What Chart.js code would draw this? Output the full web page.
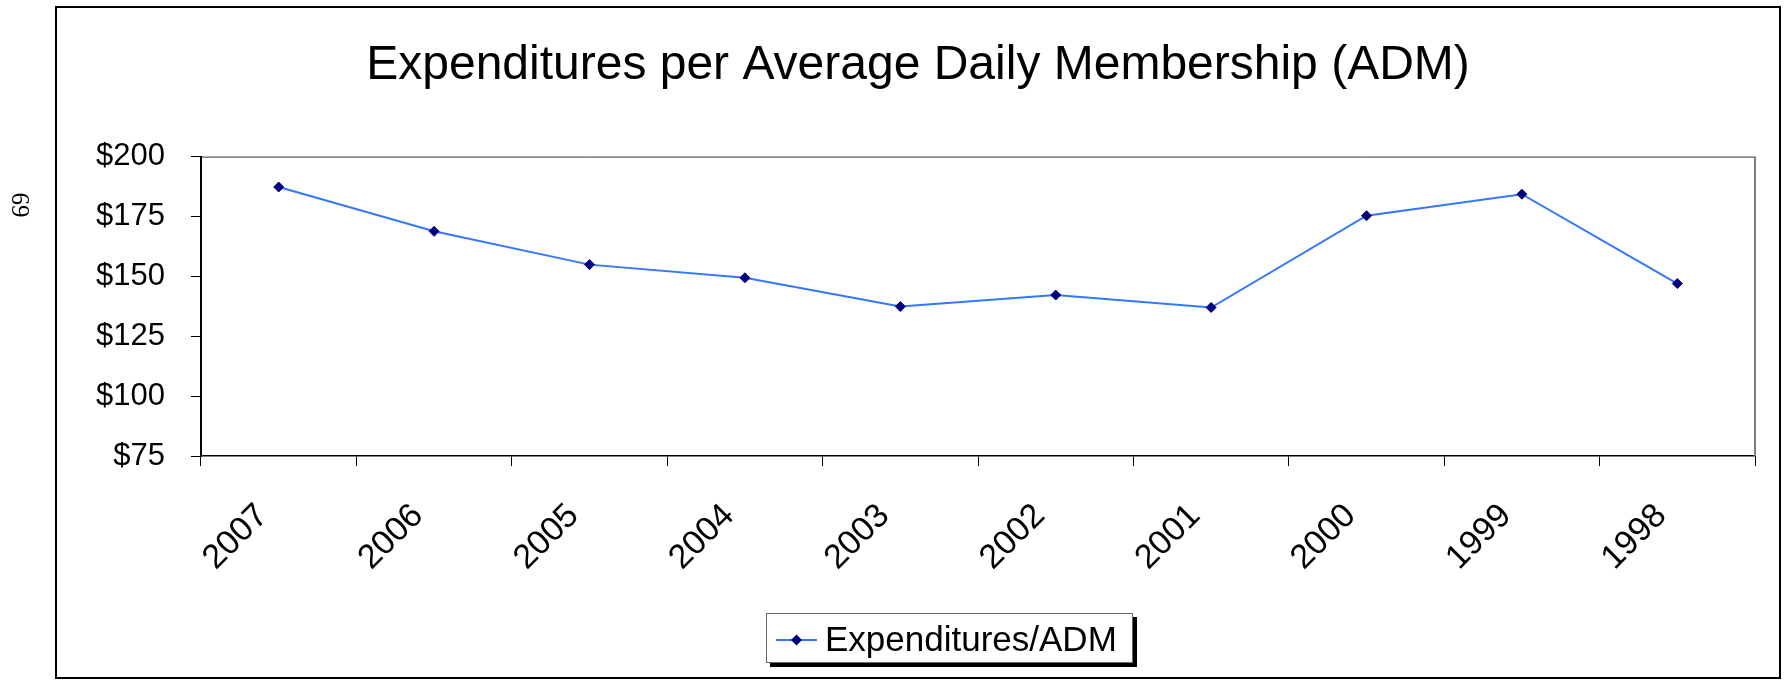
<!DOCTYPE html>
<html>
<head>
<meta charset="utf-8">
<script src="https://cdn.jsdelivr.net/npm/chart.js@4.4.1/dist/chart.umd.min.js"></script>
<style>
    html, body { margin: 0; padding: 0; background: #fff; }
    #wrap { position: relative; width: 1784px; height: 681px; }
    #pageNo {
        position: absolute; left: 5px; top: 190px; width: 30px; height: 30px;
        font-family: 'Liberation Serif', 'Times New Roman', serif; font-size: 25px;
        line-height: 30px; text-align: center; transform: rotate(90deg);
    }
</style>
</head>
<body>
<div id="wrap">
    <canvas id="admChart" width="1784" height="681"></canvas>
    <div id="pageNo">69</div>
</div>
<script>
// --- Data ---
const years = ['2007', '2006', '2005', '2004', '2003', '2002', '2001', '2000', '1999', '1998'];
const expenditures = [187.3, 168.8, 154.9, 149.4, 137.4, 142.2, 137.0, 175.3, 184.3, 147.0];
const yTicks = [75, 100, 125, 150, 175, 200];

const LINE_COLOR = '#3377ff';
const POINT_COLOR = '#000080';
const FONT = "'Liberation Sans', Arial, sans-serif";

// outer frame around the whole chart object
const framePlugin = {
    id: 'frame',
    beforeDraw(chart) {
        const ctx = chart.ctx;
        ctx.save();
        ctx.fillStyle = '#fff';
        ctx.fillRect(0, 0, chart.width, chart.height);
        ctx.strokeStyle = '#000';
        ctx.lineWidth = 2;
        ctx.strokeRect(56, 7, 1724, 671);
        ctx.restore();
    },
    beforeDatasetsDraw(chart) {
        // plot area border (top / right)
        const { ctx, chartArea: a } = chart;
        ctx.save();
        ctx.strokeStyle = '#333';
        ctx.lineWidth = 1;
        ctx.beginPath();
        ctx.moveTo(a.left, a.top + 0.5);
        ctx.lineTo(a.right, a.top + 0.5);
        ctx.stroke();
        ctx.strokeStyle = '#808080';
        ctx.lineWidth = 2;
        ctx.beginPath();
        ctx.moveTo(a.right, a.top);
        ctx.lineTo(a.right, a.bottom);
        ctx.stroke();
        ctx.restore();
    }
};

// Excel-style boxed legend with a drop shadow
const boxLegendPlugin = {
    id: 'boxLegend',
    afterDraw(chart) {
        const ctx = chart.ctx;
        const ds = chart.data.datasets[0];
        const x = 766, y = 613, w = 367, h = 50;
        ctx.save();
        ctx.fillStyle = '#000';
        ctx.fillRect(x + 4, y + 4, w, h);
        ctx.fillStyle = '#fff';
        ctx.fillRect(x, y, w, h);
        ctx.strokeStyle = '#666';
        ctx.lineWidth = 1;
        ctx.strokeRect(x + 0.5, y + 0.5, w - 1, h - 1);

        const cy = y + 27;
        ctx.strokeStyle = ds.borderColor;
        ctx.lineWidth = 2;
        ctx.beginPath();
        ctx.moveTo(x + 10, cy);
        ctx.lineTo(x + 51, cy);
        ctx.stroke();
        ctx.fillStyle = POINT_COLOR;
        ctx.beginPath();
        ctx.moveTo(x + 25, cy); ctx.lineTo(x + 30.5, cy - 5.5);
        ctx.lineTo(x + 36, cy); ctx.lineTo(x + 30.5, cy + 5.5);
        ctx.closePath();
        ctx.fill();

        ctx.fillStyle = '#000';
        ctx.font = '35px ' + FONT;
        ctx.textBaseline = 'alphabetic';
        ctx.fillText(ds.label, x + 59, y + 38);
        ctx.restore();
    }
};

new Chart(document.getElementById('admChart'), {
    type: 'line',
    data: {
        labels: years,
        datasets: [{
            label: 'Expenditures/ADM',
            data: expenditures,
            borderColor: LINE_COLOR,
            borderWidth: 2,
            pointStyle: 'rectRot',
            pointRadius: 5,
            pointBorderWidth: 1,
            pointBackgroundColor: POINT_COLOR,
            pointBorderColor: POINT_COLOR,
            tension: 0
        }]
    },
    options: {
        responsive: false,
        animation: false,
        layout: { padding: { left: 55, right: 3, top: 6, bottom: 0 } },
        plugins: {
            legend: { display: false },
            tooltip: { enabled: false },
            title: {
                display: true,
                text: 'Expenditures per Average Daily Membership (ADM)',
                color: '#000',
                font: { family: FONT, size: 48, weight: 'normal' },
                padding: { top: 31, bottom: 62 }
            }
        },
        scales: {
            x: {
                offset: true,
                grid: { offset: true, drawOnChartArea: false, tickLength: 10, color: '#000', lineWidth: 1 },
                border: { color: '#000', width: 1.5 },
                ticks: {
                    color: '#000',
                    font: { family: FONT, size: 34 },
                    minRotation: 45,
                    maxRotation: 45,
                    padding: 30,
                    labelOffset: -16,
                    autoSkip: false
                },
                afterFit(scale) { scale.height = 225; }
            },
            y: {
                min: yTicks[0],
                max: yTicks[yTicks.length - 1],
                afterBuildTicks(scale) { scale.ticks = yTicks.map(v => ({ value: v })); },
                grid: { drawOnChartArea: false, tickLength: 10, color: '#000', lineWidth: 1 },
                border: { color: '#000', width: 2 },
                ticks: {
                    color: '#000',
                    font: { family: FONT, size: 31 },
                    padding: 26,
                    callback: v => '$' + v
                },
                afterFit(scale) { scale.width = 146; }
            },
            spacer: {
                position: 'right',
                display: true,
                grid: { display: false },
                border: { display: false },
                ticks: { display: false },
                afterFit(scale) { scale.width = 26; }
            }
        }
    },
    plugins: [framePlugin, boxLegendPlugin]
});
</script>
</body>
</html>
